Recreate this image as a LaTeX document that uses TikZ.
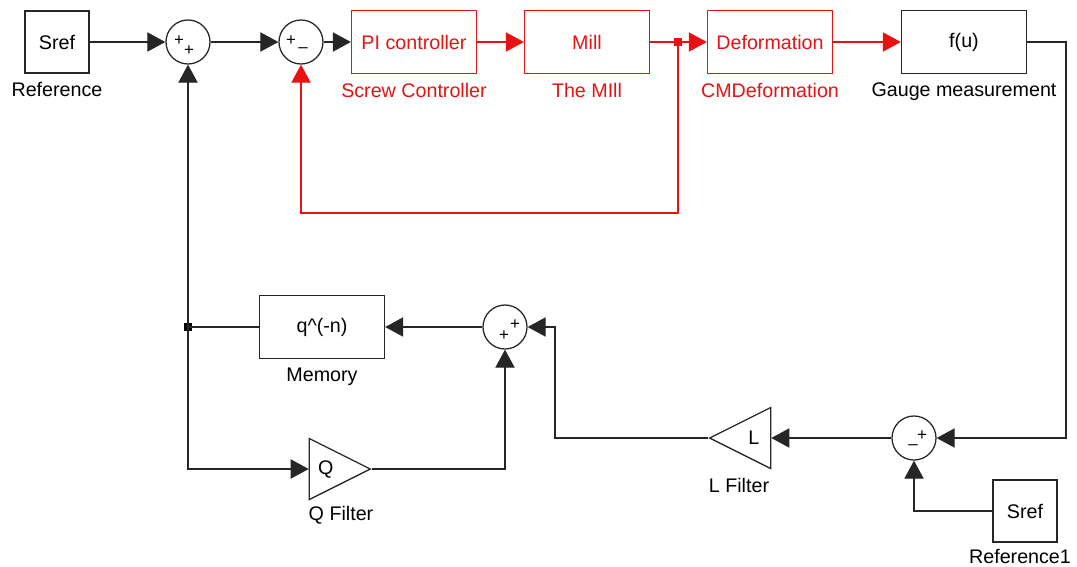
\documentclass[tikz,border=0pt]{standalone}
\usepackage{fontspec}
\setmainfont{Liberation Sans}
\usetikzlibrary{positioning,arrows.meta,shapes.geometric}
\definecolor{simred}{RGB}{232,18,18}

\begin{document}
\begin{tikzpicture}[
  x=0.025cm, y=0.025cm,
  font=\fontsize{14}{16}\selectfont,
  line width=0.9pt, draw=black!85,
  blk/.style={draw, minimum width=3.125cm, minimum height=1.575cm, inner sep=0pt},
  src/.style={draw, minimum width=1.6cm, minimum height=1.55cm, inner sep=0pt},
  sum/.style={draw, circle, minimum size=1.1cm, inner sep=0pt},
  gain/.style={draw, isosceles triangle, isosceles triangle stretches,
    minimum width=1.525cm, minimum height=1.525cm, inner sep=0pt},
  lbl/.style={inner sep=0pt},
  sgn/.style={inner sep=0pt, font=\fontsize{12}{12}\selectfont},
  arr/.style={-{Triangle[length=4.5mm, width=4.8mm]}},
  dot/.style={fill, minimum size=1.8mm, inner sep=0pt},
  node distance=0.2cm]
\useasboundingbox (0,0) rectangle (1077,-566);

% forward path
\node[src] (sref) at (57,-42) {Sref};
\node[lbl, below=of sref] {Reference};
\node[sum] (s1) at (188,-42) {};
\node[sgn] at ([shift={(-9,1)}]s1.center) {+};
\node[sgn] at ([shift={(1,-9)}]s1.center) {+};
\node[sum] (s2) at (301,-42) {};
\node[sgn] at ([shift={(-10,1)}]s2.center) {+};
\node[sgn] at ([shift={(2,-8)}]s2.center) {\textendash};
\node[blk, simred] (pi) at (414,-42) {PI controller};
\node[lbl, simred, below=of pi] {Screw Controller};
\node[blk, simred] (mill) at (587,-42) {Mill};
\node[lbl, simred, below=of mill] {The MIll};
\node[dot, simred] (j1) at (678,-42) {};
\node[blk, simred] (def) at (770,-42) {Deformation};
\node[lbl, simred, below=of def] {CMDeformation};
\node[blk] (fu) at (964,-42) {f(u)};
\node[lbl, below=of fu] {Gauge measurement};

% learning loop
\node[sum] (s3) at (914,-438) {};
\node[sgn] at ([shift={(-1,-9)}]s3.center) {\textendash};
\node[sgn] at ([shift={(8,2)}]s3.center) {+};
\node[src] (sref2) at (1025,-511) {Sref};
\node[lbl] at (1020,-556) {Reference1};
\node[gain, shape border rotate=180, anchor=apex] (lf) at (708,-438) {L};
\node[lbl] at (739,-485) {L Filter};
\node[sum] (s4) at (505,-327) {};
\node[sgn] at ([shift={(-1,-9)}]s4.center) {+};
\node[sgn] at ([shift={(10,2)}]s4.center) {+};
\node[blk] (mem) at (322,-327) {q\^{}(-n)};
\node[lbl, below=of mem] {Memory};
\node[dot] (j2) at (188,-327) {};
\node[gain, anchor=apex] (qf) at (372,-469) {Q};
\node[lbl] at (341,-515) {Q Filter};
\coordinate (redlow) at (678,-213);
\coordinate (outc) at (1066,-438);
\coordinate (lcorner) at (555,-327);

\draw[arr] (sref) -- (s1);
\draw[arr] (s1) -- (s2);
\draw[arr] (s2) -- (pi);
\draw[arr, simred] (pi) -- (mill);
\draw[simred] (mill) -- (j1);
\draw[arr, simred] (j1) -- (def);
\draw[arr, simred] (def) -- (fu);
\draw[arr, simred] (j1.center) -- (redlow) -| (s2);
\draw[arr] (fu) -| (outc) -- (s3);
\draw[arr] (sref2) -| (s3);
\draw[arr] (s3) -- (lf.lower side);
\draw[arr] (lf.apex) -| (lcorner) -- (s4);
\draw[arr] (qf.apex) -| (s4);
\draw[arr] (s4) -- (mem);
\draw (mem) -- (j2.center);
\draw[arr] (j2.center) -- (s1);
\draw[arr] (j2.center) |- (qf.lower side);
\end{tikzpicture}
\end{document}
